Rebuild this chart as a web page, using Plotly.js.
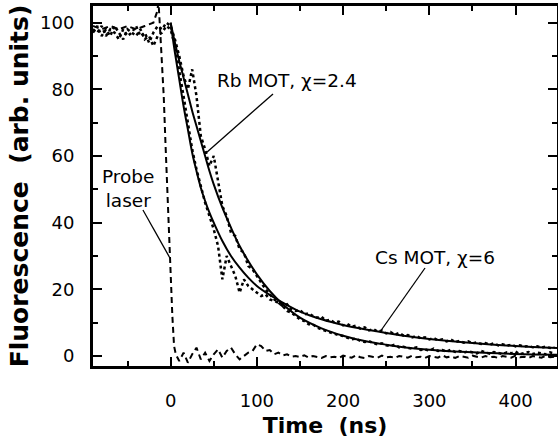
<!DOCTYPE html>
<html>
<head>
<meta charset="utf-8">
<script src="https://cdn.plot.ly/plotly-3.0.1.min.js"></script>
<style>html,body{margin:0;padding:0;background:#fff;}</style>
</head>
<body>
<div id="chart" style="width:558px;height:447px;"></div>
<script>
// ---- Data ----
// time axis (ns) for the two measured fluorescence traces
const tData = [
  -90,-85,-80,-75,-70,-65,-60,-55,-50,-45,
  -40,-35,-30,-25,-20,-15,-10,-5,
  0,5,10,15,20,25,30,35,40,45,
  50,55,60,65,70,75,80,85,90,95,
  100,105,110,115,120,125,130,135,140,145,
  150,155,160,165,170,175,180,185,190,195,
  200,205,210,215,220,225,230,235,240,245,
  250,255,260,265,270,275,280,285,290,295,
  300,305,310,315,320,325,330,335,340,345,
  350,355,360,365,370,375,380,385,390,395,
  400,405,410,415,420,425,430,435,440,445
];
// Rb MOT measured fluorescence (dotted)
const rbData = [
  98,97,99,96,98,97,95,98,96,97,
  99,96,97,94,97,99,98,100,
  99,95,90,84,80,86,78,66,62,57,
  60,52,45,42,37,36,32,31,27,26,
  24,22,20,18.5,17,16,15,13.5,13,12,
  11,10.5,9.5,9.5,8.5,8,7.5,7,6.5,6.2,
  6,5.5,5,5.2,4.5,4.2,4.5,3.8,3.5,3.8,
  3.2,3,3.4,2.6,2.8,2.4,2.2,2.6,1.8,2,
  1.6,2.2,1.5,1.8,1.3,1.9,1.2,1.5,1.0,1.4,
  1.1,0.8,1.5,1.0,0.7,1.2,0.9,0.6,1.1,0.8,
  1.3,0.5,0.9,1.2,0.6,1.0,0.8,0.5,1.1,0.7
];
// Cs MOT measured fluorescence (dotted)
const csData = [
  97,99,96,98,96,99,97,95,98,97,
  96,98,95,96,93,96,97,99,
  98,93,86,78,70,62,56,51,46,42,
  38,33,23,30,27,24,19,23,21,20,
  19,18,18.5,17,16.5,16,15,15.5,14,13.5,
  13.8,12.5,12.8,12,11.5,11.8,10.6,10.9,10,10.3,
  9.2,9.6,8.8,9.1,8.2,8.6,7.7,8.1,7.3,7.6,
  6.8,7.2,6.4,6.9,6.1,6.3,5.6,6.0,5.3,5.6,
  5.0,5.4,4.7,5.0,4.4,4.9,4.2,4.5,4.0,4.4,
  3.8,4.1,3.6,3.9,3.4,3.8,3.2,3.5,3.1,3.4,
  2.9,3.2,2.8,3.0,2.6,2.9,2.5,2.8,2.4,2.6
];
// fitted curves (solid)
const tFit = [0,5,10,15,20,25,30,35,40,45,50,60,70,80,90,100,115,130,150,175,200,225,250,275,300,350,400,448];
const rbFit = [100,94,88.5,83.5,78.5,73.5,69,64.5,60,55.5,51.5,44.5,38.5,33,28.5,24.5,19.5,15.5,11.5,8.3,6.1,4.5,3.4,2.5,1.9,1.1,0.6,0.35];
const csFit = [100,91,83,75,68,61,55.5,50.5,46.5,43,40,34.5,30,26.5,23.5,21,18.3,16,13.3,11,9.3,8,6.9,5.9,5.1,3.9,3.0,2.4];
// probe laser (dashed)
const tProbe = [
  -90,-80,-70,-60,-50,-40,-30,-20,-16,-14,
  -12,-10,-8,-6,-4,-2,0,2,4,6,
  10,15,20,25,30,35,40,45,50,55,
  60,65,70,75,80,85,90,95,100,105,
  110,115,120,125,130,135,140,145,150,155,
  160,165,170,175,180,185,190,195,200,205,
  210,215,220,225,230,235,240,245,250,255,
  260,265,270,275,280,285,290,295,300,305,
  310,315,320,325,330,335,340,345,350,355,
  360,365,370,375,380,385,390,395,400,405,
  410,415,420,425,430,435,440,445
];
const probe = [
  99,98,99,98,99,98,99,100,103,106,
  97,88,78,64,50,37,26,12,3,0.5,
  -1.5,1,-2,0.5,2.5,-1,1,-1.5,0.5,2,
  -0.5,1.5,2.5,0.5,-1,0,1,1.5,3.5,3,
  1.5,1.8,0.5,1,0.2,0.5,-0.2,0,-0.3,0.2,
  -0.5,0,-0.3,-0.6,0,-0.4,-0.2,-0.6,0.1,-0.3,
  -0.5,0.2,-0.4,-0.6,0,-0.3,-0.5,0.1,-0.4,-0.2,
  -0.6,0,-0.3,-0.5,0.1,-0.4,-0.2,-0.6,0,-0.3,
  -0.5,0.2,-0.4,-0.1,-0.6,0,-0.3,-0.5,0.1,-0.2,
  -0.5,0,-0.4,-0.2,-0.6,0,-0.3,-0.5,0.1,-0.4,
  -0.2,-0.6,0,-0.3,-0.5,0.1,-0.4,-0.2
];
// labels
const xTitle = 'Time\u00a0\u00a0(ns)';
const yTitle = 'Fluorescence\u00a0\u00a0(arb. units)';
const rbLabel = 'Rb MOT, \u03c7=2.4';
const csLabel = 'Cs MOT, \u03c7=6';
const probeLabel = 'Probe<br>laser';

// ---- Traces ----
const traces = [
  {x:tData, y:rbData, mode:'lines', line:{color:'black', width:2.5, dash:'dot'}},
  {x:tData, y:csData, mode:'lines', line:{color:'black', width:2.5, dash:'dot'}},
  {x:tProbe, y:probe, mode:'lines', line:{color:'black', width:2, dash:'6px,4px'}},
  {x:tFit, y:rbFit, mode:'lines', line:{color:'black', width:2, shape:'spline'}},
  {x:tFit, y:csFit, mode:'lines', line:{color:'black', width:2, shape:'spline'}}
];

const axisCommon = {
  ticks:'inside', ticklen:9, tickwidth:2, tickcolor:'black',
  showline:true, linewidth:3, linecolor:'black', mirror:'ticks',
  showgrid:false, zeroline:false,
  tickfont:{family:'DejaVu Sans', size:18, color:'black'}
};

const layout = {
  width:558, height:447,
  margin:{l:93, r:1, t:6, b:81},
  paper_bgcolor:'white', plot_bgcolor:'white',
  showlegend:false,
  font:{family:'DejaVu Sans', size:18, color:'black'},
  xaxis:Object.assign({}, axisCommon, {
    range:[-90,448], tick0:0, dtick:100,
    minor:{tick0:0, dtick:50, ticks:'inside', ticklen:5, tickwidth:2, tickcolor:'black', showgrid:false},
    ticklabelstandoff:16,
    title:{text:'<b>'+xTitle+'</b>', font:{family:'DejaVu Sans', size:22, color:'black'}, standoff:9},
    automargin:false
  }),
  yaxis:Object.assign({}, axisCommon, {
    range:[-3,105], tick0:0, dtick:20,
    minor:{tick0:0, dtick:10, ticks:'inside', ticklen:5, tickwidth:2, tickcolor:'black', showgrid:false},
    ticklabelstandoff:12,
    title:{text:'<b>'+yTitle+'</b>', font:{family:'DejaVu Sans', size:25, color:'black'}, standoff:5},
    automargin:false
  }),
  annotations:[
    {x:135, y:82.8, xref:'x', yref:'y', text:rbLabel, showarrow:false, font:{size:18.5}},
    {x:306.6, y:29.7, xref:'x', yref:'y', text:csLabel, showarrow:false, font:{size:18.5}},
    {x:-50, y:50.4, xref:'x', yref:'y', text:probeLabel, showarrow:false, font:{size:18.5}, align:'center'}
  ],
  shapes:[
    {type:'line', xref:'x', yref:'y', x0:118.7, y0:78.6, x1:41, y1:60.9, line:{color:'black', width:1.3}},
    {type:'line', xref:'x', yref:'y', x0:295, y0:26.4, x1:242.7, y1:7.2, line:{color:'black', width:1.3}},
    {type:'line', xref:'x', yref:'y', x0:-32.1, y0:43.8, x1:-0.8, y1:29.4, line:{color:'black', width:1.3}}
  ]
};

Plotly.newPlot('chart', traces, layout, {staticPlot:true, displayModeBar:false});
</script>
</body>
</html>
